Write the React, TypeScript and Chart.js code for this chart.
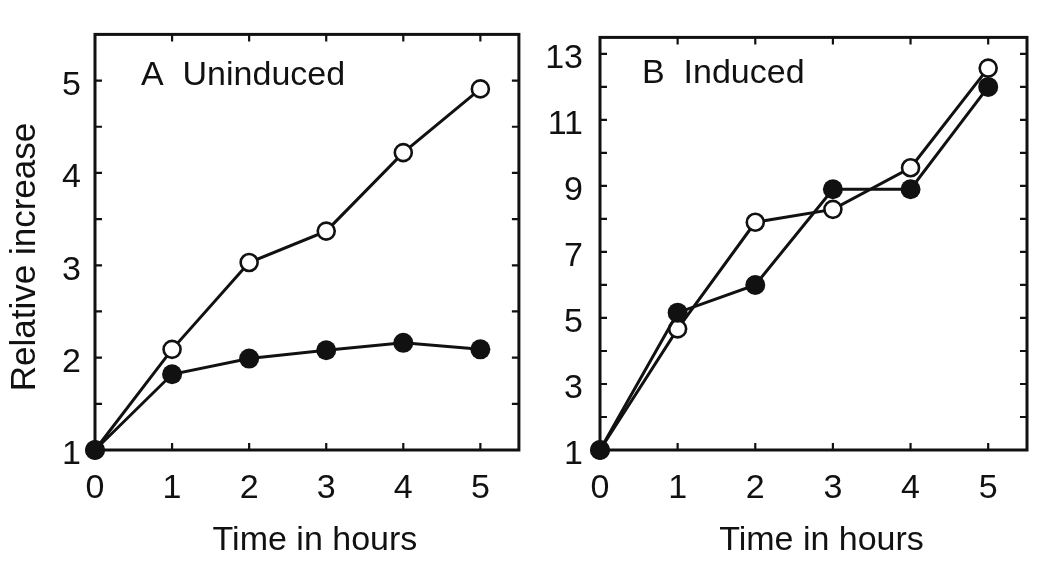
import React, { useEffect, useRef } from "react";
import { Chart, registerables } from "chart.js";

Chart.register(...registerables);

// ---- data ----
const hours = [0, 1, 2, 3, 4, 5];
const uninducedOpen = [1, 2.09, 3.03, 3.37, 4.22, 4.91];
const uninducedFilled = [1, 1.82, 1.99, 2.08, 2.16, 2.09];
const inducedOpen = [1, 4.67, 7.9, 8.29, 9.55, 12.57];
const inducedFilled = [1, 5.16, 6.0, 8.9, 8.9, 12.0];

const xTickLabels = [0, 1, 2, 3, 4, 5];
const yTicksA = [1, 2, 3, 4, 5];
const yMinorA = [1.5, 2, 2.5, 3, 3.5, 4, 4.5, 5];
const yTicksB = [1, 3, 5, 7, 9, 11, 13];
const yMinorB = [2, 3, 4, 5, 6, 7, 8, 9, 10, 11, 12, 13];

const panelLabelA = "A  Uninduced";
const panelLabelB = "B  Induced";
const xTitle = "Time in hours";
const yTitle = "Relative increase";

const FONT = "'Liberation Sans', Arial, Helvetica, sans-serif";
const INK = "#111111";

type PanelSpec = {
  open: number[];
  filled: number[];
  yMin: number;
  yMax: number;
  yTicks: number[];
  yMinor: number[];
  label: string;
  labelDx: number;
  labelBaseline: number;
  yAxisWidth: number;
  padRight: number;
  tickPad: number;
  showYTitle: boolean;
};

function makePoints(ys: number[]) {
  return hours.map((h, i) => ({ x: h, y: ys[i] }));
}

function buildConfig(p: PanelSpec): any {
  const framePlugin = {
    id: "frameAndTicks",
    beforeDatasetsDraw(chart: any) {
      const { ctx, chartArea, scales } = chart;
      const { left, right, top, bottom } = chartArea;
      ctx.save();
      ctx.strokeStyle = INK;
      ctx.lineWidth = 3;
      ctx.strokeRect(left, top, right - left, bottom - top);
      ctx.lineWidth = 2.2;
      const tl = 7;
      ctx.beginPath();
      p.yMinor.forEach((v) => {
        const py = scales.y.getPixelForValue(v);
        ctx.moveTo(left, py);
        ctx.lineTo(left + tl, py);
        ctx.moveTo(right, py);
        ctx.lineTo(right - tl, py);
      });
      xTickLabels.forEach((v) => {
        if (v === 0) return;
        const px = scales.x.getPixelForValue(v);
        ctx.moveTo(px, top);
        ctx.lineTo(px, top + tl);
        ctx.moveTo(px, bottom);
        ctx.lineTo(px, bottom - tl);
      });
      ctx.stroke();
      ctx.restore();
    },
    afterDraw(chart: any) {
      const { ctx, chartArea } = chart;
      const { left, right } = chartArea;
      ctx.save();
      ctx.fillStyle = INK;
      ctx.font = `34px ${FONT}`;
      ctx.textAlign = "left";
      ctx.textBaseline = "alphabetic";
      ctx.fillText(p.label, left + p.labelDx, p.labelBaseline);

      ctx.textAlign = "center";
      ctx.textBaseline = "middle";
      ctx.fillText(xTitle, (left + right) / 2 + 8, 541);

      if (p.showYTitle) {
        ctx.translate(35, 257);
        ctx.rotate(-Math.PI / 2);
        ctx.font = `35px ${FONT}`;
        ctx.textAlign = "center";
        ctx.textBaseline = "alphabetic";
        ctx.fillText(yTitle, 0, 0);
      }
      ctx.restore();
    },
  };

  return {
    type: "line",
    data: {
      datasets: [
        {
          label: "filled",
          data: makePoints(p.filled),
          borderColor: INK,
          borderWidth: 3,
          pointRadius: 10,
          pointBorderWidth: 0,
          pointBackgroundColor: INK,
          pointBorderColor: INK,
          tension: 0,
          clip: false,
        },
        {
          label: "open",
          data: makePoints(p.open),
          borderColor: INK,
          borderWidth: 3,
          pointRadius: 8.5,
          pointBorderWidth: 2.6,
          pointBackgroundColor: "#ffffff",
          pointBorderColor: INK,
          tension: 0,
          clip: false,
        },
      ],
    },
    options: {
      responsive: false,
      animation: false,
      devicePixelRatio: 1,
      layout: { padding: { top: 15, right: p.padRight, left: 0, bottom: 0 } },
      plugins: {
        legend: { display: false },
        tooltip: { enabled: false },
        title: { display: false },
      },
      scales: {
        x: {
          type: "linear",
          min: 0,
          max: 5.5,
          grid: { display: false, drawTicks: false },
          border: { display: false },
          afterBuildTicks: (scale: any) => {
            scale.ticks = xTickLabels.map((v) => ({ value: v }));
          },
          afterFit: (scale: any) => {
            scale.height = 121;
          },
          ticks: {
            color: INK,
            padding: 18,
            maxRotation: 0,
            autoSkip: false,
            font: { family: FONT, size: 34 },
          },
        },
        y: {
          type: "linear",
          min: p.yMin,
          max: p.yMax,
          grid: { display: false, drawTicks: false },
          border: { display: false },
          afterBuildTicks: (scale: any) => {
            scale.ticks = p.yTicks.map((v) => ({ value: v }));
          },
          afterFit: (scale: any) => {
            scale.width = p.yAxisWidth;
          },
          ticks: {
            color: INK,
            padding: p.tickPad,
            labelOffset: 5,
            autoSkip: false,
            font: { family: FONT, size: 34 },
          },
        },
      },
    },
    plugins: [framePlugin],
  };
}

function Panel(props: { spec: PanelSpec; left: number; width: number }) {
  const ref = useRef<HTMLCanvasElement | null>(null);
  useEffect(() => {
    if (!ref.current) return;
    const chart = new Chart(ref.current, buildConfig(props.spec));
    return () => chart.destroy();
  }, []);
  return (
    <canvas
      ref={ref}
      width={props.width}
      height={571}
      style={{
        position: "absolute",
        left: props.left,
        top: 0,
        width: props.width,
        height: 571,
        display: "block",
      }}
    />
  );
}

const specA: PanelSpec = {
  open: uninducedOpen,
  filled: uninducedFilled,
  yMin: 1,
  yMax: 5.5,
  yTicks: yTicksA,
  yMinor: yMinorA,
  label: panelLabelA,
  labelDx: 46,
  labelBaseline: 85,
  yAxisWidth: 95,
  padRight: 10,
  tickPad: 14,
  showYTitle: true,
};

const specB: PanelSpec = {
  open: inducedOpen,
  filled: inducedFilled,
  yMin: 1,
  yMax: 13.5,
  yTicks: yTicksB,
  yMinor: yMinorB,
  label: panelLabelB,
  labelDx: 42,
  labelBaseline: 83,
  yAxisWidth: 70,
  padRight: 23,
  tickPad: 17,
  showYTitle: false,
};

export default function App() {
  return (
    <div
      style={{
        position: "absolute",
        left: 0,
        top: 0,
        width: 1050,
        height: 571,
        background: "#ffffff",
        overflow: "hidden",
      }}
    >
      <Panel spec={specA} left={0} width={530} />
      <Panel spec={specB} left={530} width={520} />
    </div>
  );
}
